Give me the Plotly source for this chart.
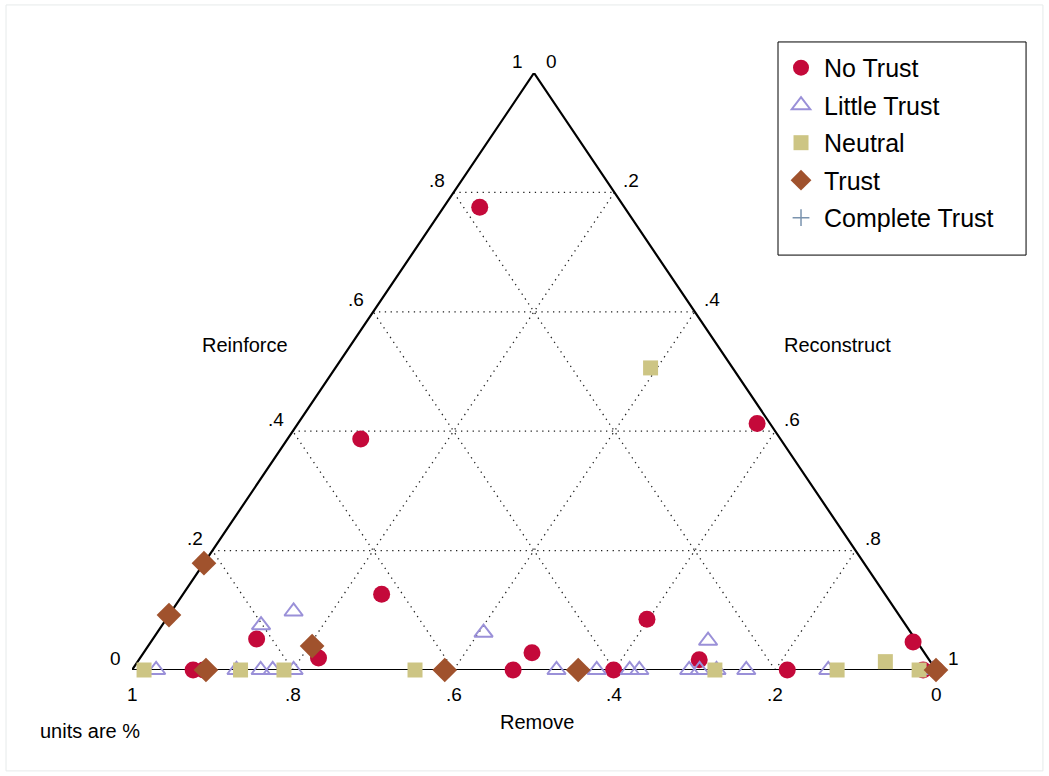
import plotly.graph_objects as go

# Component shares per observation (fractions of 1); remove = 1 - reinforce - reconstruct
no_trust_reinforce = [0.775, 0.387, 0.413, 0.127, 0.052, 0.020, 0.085, 0.029, 0.047, 0.017,
                      0.0, 0.0, 0.0, 0.0, 0.0, 0.0, 0.0]
no_trust_reconstruct = [0.045, 0.091, 0.571, 0.247, 0.129, 0.222, 0.598, 0.483, 0.948, 0.697,
                        0.076, 0.089, 0.474, 0.599, 0.815, 0.984, 1.0]

little_reinforce = [0.098, 0.075, 0.0625, 0.049,
                    0.0, 0.0, 0.0, 0.0, 0.0, 0.0, 0.0, 0.0, 0.0, 0.0, 0.0, 0.0, 0.0, 0.0, 0.0]
little_reconstruct = [0.152, 0.123, 0.406, 0.692,
                      0.030, 0.130, 0.160, 0.175, 0.201, 0.528, 0.578, 0.619, 0.631,
                      0.693, 0.706, 0.727, 0.764, 0.866, 0.996]

neutral_reinforce = [0.506, 0.014, 0.0, 0.0, 0.0, 0.0, 0.0, 0.0, 0.0]
neutral_reconstruct = [0.392, 0.930, 0.015, 0.135, 0.189, 0.352, 0.725, 0.877, 0.979]

trust_reinforce = [0.179, 0.092, 0.040, 0.0, 0.0, 0.0, 0.0]
trust_reconstruct = [0.0, 0.0, 0.204, 0.092, 0.389, 0.555, 1.0]

complete_reinforce = []
complete_reconstruct = []

grid_values = [0.2, 0.4, 0.6, 0.8]
left_ticks = ["0", ".2", ".4", ".6", ".8", "1"]      # Reinforce
right_ticks = ["0", ".2", ".4", ".6", ".8", "1"]     # Reconstruct
bottom_ticks = ["1", ".8", ".6", ".4", ".2", "0"]    # Remove
tick_steps = [0.0, 0.2, 0.4, 0.6, 0.8, 1.0]

FONT = "Liberation Sans, Arial, sans-serif"


def to_xy(reinforce, reconstruct):
    """Map ternary shares to the plane: base runs Remove=1 (left) to Reconstruct=1 (right)."""
    xs = [c + a / 2 for a, c in zip(reinforce, reconstruct)]
    ys = list(reinforce)
    return xs, ys


fig = go.Figure()

# Dotted grid lines inside the triangle
for v in grid_values:
    segs = [
        ((v, 0.0), (v, 1 - v)),          # constant Reinforce
        ((0.0, v), (1 - v, v)),          # constant Reconstruct
        ((0.0, 1 - v), (1 - v, 0.0)),    # constant Remove
    ]
    for (a0, c0), (a1, c1) in segs:
        xs, ys = to_xy([a0, a1], [c0, c1])
        fig.add_trace(go.Scatter(x=xs, y=ys, mode="lines", showlegend=False, hoverinfo="skip",
                                 line=dict(color="#222222", width=1.3, dash="1.3px,4.5px")))

# Triangle outline
tx, ty = to_xy([0, 0, 1, 0], [0, 1, 0, 0])
fig.add_trace(go.Scatter(x=tx, y=ty, mode="lines", showlegend=False, hoverinfo="skip",
                         line=dict(color="black", width=2.2)))

groups = [
    ("No Trust", no_trust_reinforce, no_trust_reconstruct,
     dict(symbol="circle", size=17, color="#C4093A")),
    ("Little Trust", little_reinforce, little_reconstruct,
     dict(symbol="triangle-up-open", size=16, color="#9A90D8", line=dict(width=2, color="#9A90D8"))),
    ("Neutral", neutral_reinforce, neutral_reconstruct,
     dict(symbol="square", size=15, color="#CDC584")),
    ("Trust", trust_reinforce, trust_reconstruct,
     dict(symbol="diamond", size=19, color="#A0522D")),
    ("Complete Trust", complete_reinforce, complete_reconstruct,
     dict(symbol="cross-thin-open", size=12, color="#7A93AE", line=dict(width=1.5, color="#7A93AE"))),
]
for name, a, c, marker in groups:
    xs, ys = to_xy(a, c)
    if not xs:
        xs, ys = [None], [None]
    fig.add_trace(go.Scatter(x=xs, y=ys, mode="markers", name=name, legendgroup=name,
                             marker=marker, cliponaxis=False))

annotations = []
tick_font = dict(family=FONT, size=19, color="black")
for v, lab in zip(tick_steps, left_ticks):
    xs, ys = to_xy([v], [0.0])
    annotations.append(dict(x=xs[0], y=ys[0], text=lab, showarrow=False, font=tick_font,
                            xanchor="center", yanchor="middle", xshift=-17, yshift=12))
for v, lab in zip(tick_steps, right_ticks):
    xs, ys = to_xy([1 - v], [v])
    annotations.append(dict(x=xs[0], y=ys[0], text=lab, showarrow=False, font=tick_font,
                            xanchor="center", yanchor="middle", xshift=17, yshift=12))
for v, lab in zip(tick_steps, bottom_ticks):
    xs, ys = to_xy([0.0], [v])
    annotations.append(dict(x=xs[0], y=ys[0], text=lab, showarrow=False, font=tick_font,
                            xanchor="center", yanchor="middle", yshift=-24))

title_font = dict(family=FONT, size=20, color="black")
annotations += [
    dict(x=0.1405, y=0.544, xref="paper", yref="paper", text="Reinforce",
         showarrow=False, font=title_font, xanchor="center", yanchor="middle"),
    dict(x=0.877, y=0.544, xref="paper", yref="paper", text="Reconstruct",
         showarrow=False, font=title_font, xanchor="center", yanchor="middle"),
    dict(x=0.504, y=-0.087, xref="paper", yref="paper", text="Remove",
         showarrow=False, font=title_font, xanchor="center", yanchor="middle"),
    dict(x=-0.117, y=-0.102, xref="paper", yref="paper", text="units are %",
         showarrow=False, font=title_font, xanchor="left", yanchor="middle"),
]

fig.update_layout(
    width=1049, height=776,
    margin=dict(l=132, r=113, t=73, b=106),
    paper_bgcolor="white", plot_bgcolor="white",
    xaxis=dict(range=[0, 1], visible=False, fixedrange=True),
    yaxis=dict(range=[0, 1], visible=False, fixedrange=True),
    annotations=annotations,
    legend=dict(x=0.8035, y=1.047, xanchor="left", yanchor="top",
                bgcolor="rgba(0,0,0,0)", borderwidth=0,
                font=dict(family=FONT, size=25, color="black"),
                traceorder="grouped", tracegroupgap=2, itemwidth=36),
    shapes=[
        # outer graph region frame
        dict(type="rect", xref="paper", yref="paper",
             x0=-0.1567, x1=1.133, y0=-0.169, y1=1.114,
             line=dict(color="#E6EAEA", width=1), fillcolor="rgba(0,0,0,0)", layer="below"),
        # legend frame
        dict(type="rect", xref="paper", yref="paper",
             x0=0.8035, x1=1.112, y0=0.695, y1=1.052,
             line=dict(color="black", width=1), fillcolor="white", layer="below"),
    ],
    showlegend=True,
)

fig.write_html("out.html")
